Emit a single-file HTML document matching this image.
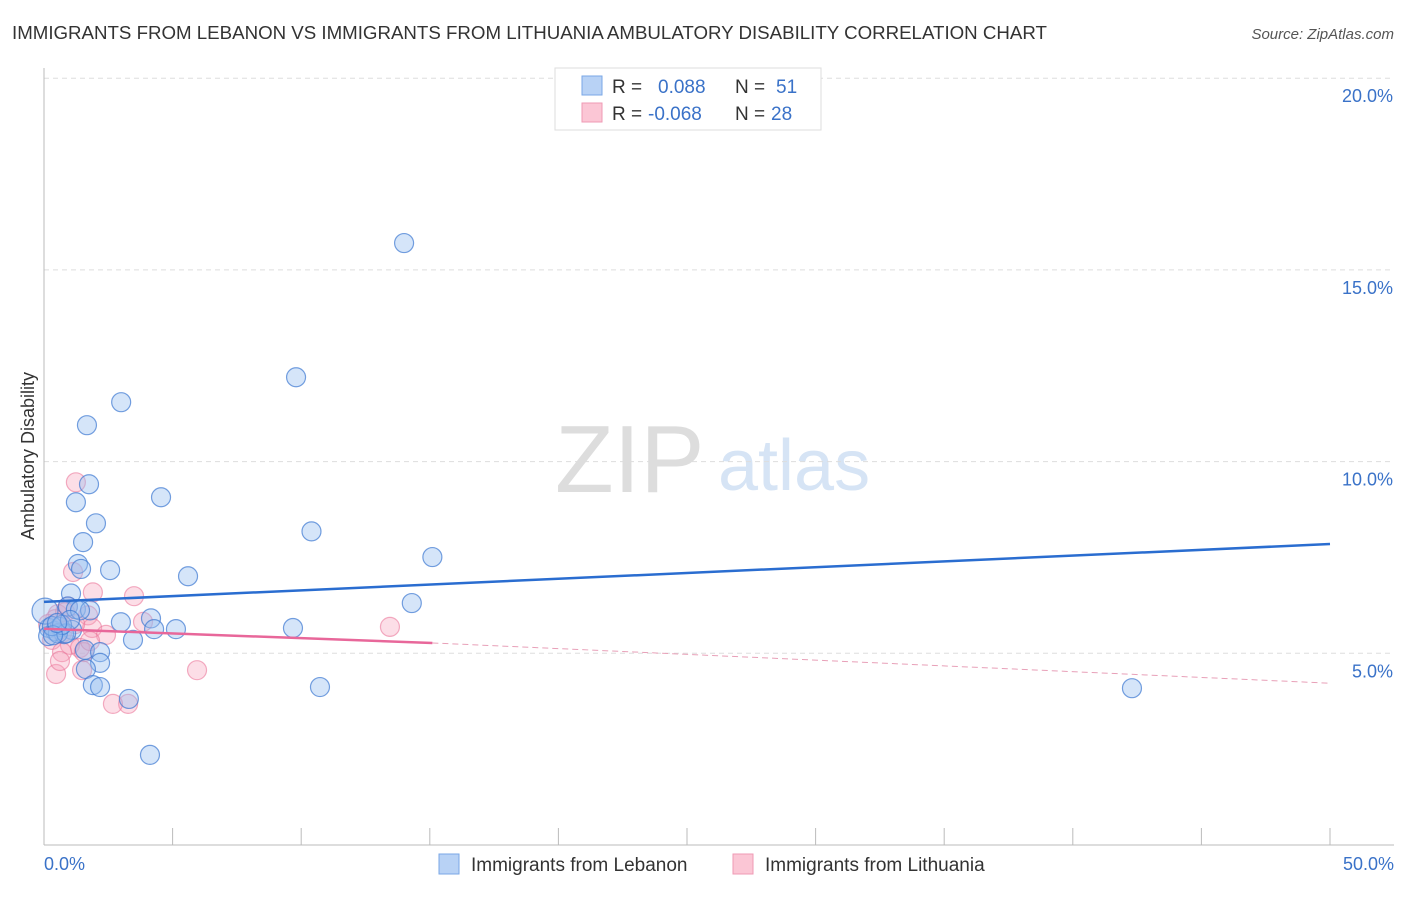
<!DOCTYPE html>
<html><head><meta charset="utf-8"><style>
body{margin:0;background:#fff;font-family:"Liberation Sans",sans-serif}
svg text{font-family:"Liberation Sans",sans-serif}
</style></head><body>
<svg width="1406" height="892">
<text x="12" y="39" font-size="18.7" fill="#333">IMMIGRANTS FROM LEBANON VS IMMIGRANTS FROM LITHUANIA AMBULATORY DISABILITY CORRELATION CHART</text>
<text x="1394" y="39" font-size="15" fill="#555" text-anchor="end" font-style="italic">Source: ZipAtlas.com</text>
<text x="555" y="492" font-size="96" fill="#ddd" font-family="Liberation Serif">ZIP</text>
<text x="718" y="490" font-size="72" fill="#d6e4f5">atlas</text>
<g id="grid"></g>
<line x1="44" y1="68" x2="44" y2="845" stroke="#bbb"/>
<line x1="44" y1="845" x2="1394" y2="845" stroke="#bbb"/>
<g id="xt"></g>
<text x="34" y="456" font-size="18" fill="#333" text-anchor="middle" transform="rotate(-90 34 456)">Ambulatory Disability</text>
<text x="44" y="870" font-size="18" fill="#3a72c8">0.0%</text>
<text x="1394" y="870" font-size="18" fill="#3a72c8" text-anchor="end">50.0%</text>
<g id="pts"></g>
<g id="lines"></g>
<g>
<rect x="555" y="68" width="266" height="62" fill="#fff" stroke="#ddd"/>
<rect x="582" y="76" width="20" height="19" fill="#b8d2f5" stroke="#7aa7e6"/>
<text x="612" y="93" font-size="19" fill="#333">R =</text><text x="658" y="93" font-size="19" fill="#3a72c8">0.088</text>
<text x="735" y="93" font-size="19" fill="#333">N =</text><text x="776" y="93" font-size="19" fill="#3a72c8">51</text>
<rect x="582" y="103" width="20" height="19" fill="#fbc6d5" stroke="#ef9ab4"/>
<text x="612" y="120" font-size="19" fill="#333">R =</text><text x="648" y="120" font-size="19" fill="#3a72c8">-0.068</text>
<text x="735" y="120" font-size="19" fill="#333">N =</text><text x="771" y="120" font-size="19" fill="#3a72c8">28</text>
</g>
<g>
<rect x="439" y="854" width="20" height="20" fill="#b8d2f5" stroke="#7aa7e6"/>
<text x="471" y="871" font-size="19" fill="#333">Immigrants from Lebanon</text>
<rect x="733" y="854" width="20" height="20" fill="#fbc6d5" stroke="#ef9ab4"/>
<text x="765" y="871" font-size="19" fill="#333">Immigrants from Lithuania</text>
</g>
</svg>
<script>
const yTicks=[5,10,15,20];
const xTickVals=[0,5,10,15,20,25,30,35,40,45,50];
const blueX=[14.0,9.8,3.0,1.67,4.55,1.24,1.75,2.02,10.4,1.52,15.1,1.32,1.44,2.57,5.6,1.05,14.3,0.93,1.24,1.79,2.99,4.16,9.68,4.28,5.13,1.09,0.19,0.43,0.62,0.78,0.16,3.46,1.59,2.18,2.18,1.63,1.9,2.18,3.3,10.73,42.3,4.12,0.04,0.54,0.31,0.86,0.7,0.35,1.4,1.01,0.51];
const blueY=[15.7,12.2,11.55,10.95,9.07,8.94,9.41,8.39,8.18,7.9,7.51,7.33,7.2,7.17,7.01,6.56,6.31,6.22,6.15,6.12,5.81,5.91,5.66,5.63,5.63,5.61,5.66,5.58,5.69,5.5,5.45,5.35,5.09,5.03,4.75,4.59,4.17,4.12,3.81,4.12,4.09,2.35,6.1,5.52,5.71,5.52,5.74,5.47,6.12,5.87,5.79];
const pinkX=[1.24,1.13,3.5,1.9,0.93,0.54,1.71,1.87,3.85,13.45,2.41,0.7,0.31,1.01,1.4,1.55,0.7,5.95,1.48,0.47,3.27,2.68,0.62,0.43,0.16,1.79,1.21,0.82];
const pinkY=[9.46,7.12,6.49,6.59,6.22,6.02,5.99,5.66,5.82,5.69,5.48,5.53,5.35,5.22,5.14,5.03,5.03,4.56,4.56,4.46,3.68,3.68,4.8,5.89,5.76,5.32,5.76,6.07];
const blueTrend=[6.34,7.85];
const pinkTrend=[5.64,5.27,4.22];
const NS='http://www.w3.org/2000/svg';
const X=v=>44+v/50*1286, Y=v=>845-v/5*191.7;
function mk(t,a,p){const e=document.createElementNS(NS,t);for(const k in a)e.setAttribute(k,a[k]);document.getElementById(p).appendChild(e);return e;}
yTicks.forEach(v=>{
 const l=mk('line',{x1:44,x2:1394,y1:Y(v),y2:Y(v),stroke:'#ddd','stroke-dasharray':'5,4'},'grid');
 
 
 const t=mk('text',{x:1393,y:Y(v)+24,'font-size':18,fill:'#3a72c8','text-anchor':'end'},'grid');
 t.textContent=v.toFixed(1)+'%';
 
 
});
xTickVals.forEach(v=>{
 const l=mk('line',{x1:X(v),x2:X(v),y1:828,y2:845,stroke:'#bbb'},'xt');
 
 
});
pinkX.forEach((x,i)=>{
 const c=mk('circle',{cx:X(x),cy:Y(pinkY[i]),r:9.5,fill:'rgba(245,160,185,0.35)',stroke:'rgba(235,120,155,0.6)','stroke-width':1.2},'pts');
 
 
});
blueX.forEach((x,i)=>{
 const c=mk('circle',{cx:X(x),cy:Y(blueY[i]),r:i==42?13:9.5,fill:'rgba(150,190,240,0.4)',stroke:'rgba(60,120,210,0.7)','stroke-width':1.2},'pts');
 
 
});
let l=mk('line',{x1:X(0),y1:Y(blueTrend[0]),x2:X(50),y2:Y(blueTrend[1]),stroke:'#2a6dd0','stroke-width':2.5},'lines');


l=mk('line',{x1:X(0),y1:Y(pinkTrend[0]),x2:X(15.1),y2:Y(pinkTrend[1]),stroke:'#e8679a','stroke-width':2.5},'lines');


l=mk('line',{x1:X(15.1),y1:Y(pinkTrend[1]),x2:X(50),y2:Y(pinkTrend[2]),stroke:'#e8a0b8','stroke-width':1,'stroke-dasharray':'6,4'},'lines');


</script>
</body></html>
